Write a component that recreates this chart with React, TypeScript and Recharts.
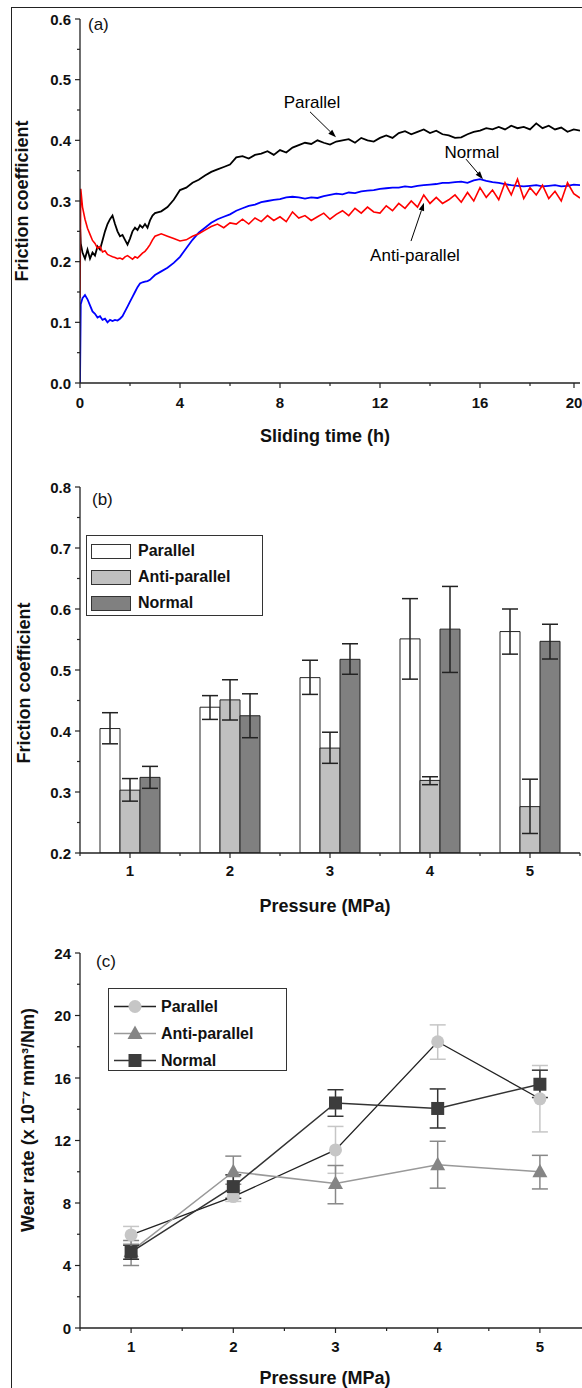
import {
  Bar,
  BarChart,
  ErrorBar,
  Legend,
  Line,
  LineChart,
  ReferenceDot,
  ReferenceLine,
  XAxis,
  YAxis,
} from "recharts";

const FONT = '"Liberation Sans", Arial, Helvetica, sans-serif';
const AXIS = "#222";

// ---- (a) friction coefficient vs sliding time ----
const hours = [
  0, 0.03, 0.1, 0.2, 0.3, 0.4, 0.5, 0.6, 0.7, 0.8,
  0.9, 1.0, 1.1, 1.2, 1.3, 1.4, 1.5, 1.6, 1.7, 1.8,
  1.9, 2.0, 2.1, 2.2, 2.3, 2.4, 2.5, 2.6, 2.7, 2.8,
  2.9, 3.0, 3.25, 3.5, 3.75, 4, 4.25, 4.5, 4.75, 5,
  5.25, 5.5, 5.75, 6, 6.25, 6.5, 6.75, 7, 7.25, 7.5,
  7.75, 8, 8.25, 8.5, 8.75, 9, 9.25, 9.5, 9.75, 10,
  10.25, 10.5, 10.75, 11, 11.25, 11.5, 11.75, 12, 12.25, 12.5,
  12.75, 13, 13.25, 13.5, 13.75, 14, 14.25, 14.5, 14.75, 15,
  15.25, 15.5, 15.75, 16, 16.25, 16.5, 16.75, 17, 17.25, 17.5,
  17.75, 18, 18.25, 18.5, 18.75, 19, 19.25, 19.5, 19.75, 20,
];
const parallelCof = [
  0.26, 0.23, 0.215, 0.205, 0.22, 0.205, 0.215, 0.21, 0.225, 0.22,
  0.235, 0.25, 0.262, 0.27, 0.276, 0.262, 0.25, 0.242, 0.244, 0.236,
  0.228, 0.238, 0.25, 0.256, 0.252, 0.26, 0.256, 0.262, 0.256, 0.268,
  0.276, 0.28, 0.283, 0.29, 0.302, 0.318, 0.322, 0.33, 0.335, 0.342,
  0.348, 0.352, 0.356, 0.36, 0.372, 0.374, 0.37, 0.376, 0.378, 0.382,
  0.376, 0.384, 0.38, 0.388, 0.392, 0.396, 0.394, 0.4, 0.396, 0.393,
  0.398, 0.4, 0.402, 0.396, 0.404, 0.4, 0.398, 0.404, 0.408, 0.404,
  0.412, 0.415, 0.41, 0.414, 0.418, 0.412, 0.416, 0.41, 0.408, 0.404,
  0.405, 0.41, 0.414, 0.416, 0.42, 0.418, 0.422, 0.418, 0.424, 0.42,
  0.422, 0.418, 0.428, 0.42, 0.424, 0.418, 0.421, 0.414, 0.418, 0.416,
];
const antiCof = [
  0.14, 0.32, 0.29, 0.27, 0.255, 0.245, 0.235, 0.23, 0.222, 0.225,
  0.216, 0.218, 0.212, 0.21, 0.208, 0.207, 0.205, 0.206, 0.204, 0.208,
  0.21, 0.207, 0.204, 0.208, 0.206, 0.21, 0.214, 0.217, 0.222, 0.228,
  0.236, 0.242, 0.246, 0.242, 0.238, 0.234, 0.236, 0.242, 0.246, 0.252,
  0.258, 0.262, 0.256, 0.264, 0.262, 0.27, 0.262, 0.272, 0.266, 0.276,
  0.268, 0.274, 0.266, 0.282, 0.272, 0.276, 0.268, 0.274, 0.28, 0.27,
  0.278, 0.284, 0.276, 0.288, 0.28, 0.29, 0.282, 0.28, 0.292, 0.284,
  0.296, 0.288, 0.3, 0.29, 0.31, 0.296, 0.306, 0.296, 0.302, 0.31,
  0.298, 0.314, 0.3, 0.322, 0.306, 0.318, 0.302, 0.33, 0.31, 0.336,
  0.304, 0.322, 0.31, 0.326, 0.304, 0.316, 0.3, 0.33, 0.312, 0.305,
];
const normalCof = [
  0, 0.13, 0.14, 0.145, 0.138, 0.128, 0.118, 0.114, 0.108, 0.11,
  0.104, 0.106, 0.1, 0.104, 0.102, 0.104, 0.103, 0.106, 0.11, 0.118,
  0.126, 0.134, 0.142, 0.15, 0.158, 0.164, 0.166, 0.167, 0.168, 0.17,
  0.174, 0.178, 0.184, 0.19, 0.198, 0.208, 0.222, 0.236, 0.248, 0.256,
  0.264, 0.27, 0.274, 0.278, 0.284, 0.288, 0.292, 0.294, 0.298, 0.3,
  0.302, 0.303, 0.306, 0.307, 0.306, 0.304, 0.306, 0.305, 0.308, 0.31,
  0.312, 0.311, 0.314, 0.313, 0.316, 0.317, 0.318, 0.32, 0.321, 0.322,
  0.322, 0.324, 0.323, 0.325, 0.326, 0.327, 0.328, 0.33, 0.33, 0.331,
  0.332, 0.33, 0.334, 0.336, 0.333, 0.331, 0.33, 0.328, 0.326, 0.325,
  0.324, 0.325, 0.326, 0.324, 0.325, 0.326, 0.324, 0.325, 0.327, 0.326,
];
const timeTicks = [0, 2, 4, 6, 8, 10, 12, 14, 16, 18, 20];
const timeMajor = [0, 4, 8, 12, 16, 20];
const cofTicksA = [0, 0.05, 0.1, 0.15, 0.2, 0.25, 0.3, 0.35, 0.4, 0.45, 0.5, 0.55, 0.6];
const cofMajorA = [0, 0.1, 0.2, 0.3, 0.4, 0.5, 0.6];

// ---- (b) friction coefficient vs pressure ----
const pressureCats = ["1", "2", "3", "4", "5"];
const parallelFric = [0.404, 0.439, 0.4875, 0.551, 0.563];
const parallelFricLow = [0.379, 0.419, 0.46, 0.485, 0.526];
const parallelFricHigh = [0.43, 0.458, 0.516, 0.617, 0.6];
const antiFric = [0.303, 0.451, 0.372, 0.319, 0.276];
const antiFricLow = [0.285, 0.418, 0.347, 0.312, 0.232];
const antiFricHigh = [0.322, 0.484, 0.398, 0.325, 0.321];
const normalFric = [0.324, 0.425, 0.5175, 0.567, 0.547];
const normalFricLow = [0.306, 0.389, 0.493, 0.496, 0.518];
const normalFricHigh = [0.342, 0.461, 0.543, 0.637, 0.575];
const cofTicksB = [0.2, 0.25, 0.3, 0.35, 0.4, 0.45, 0.5, 0.55, 0.6, 0.65, 0.7, 0.75, 0.8];
const cofMajorB = [0.2, 0.3, 0.4, 0.5, 0.6, 0.7, 0.8];

// ---- (c) wear rate vs pressure ----
const pressures = [1, 2, 3, 4, 5];
const parallelWear = [5.96, 8.41, 11.4, 18.32, 14.67];
const parallelWearLow = [5.4, 8.1, 9.9, 17.2, 12.55];
const parallelWearHigh = [6.5, 8.8, 12.9, 19.4, 16.8];
const antiWear = [4.9, 10.0, 9.25, 10.45, 10.0];
const antiWearLow = [4.0, 9.2, 7.95, 8.95, 8.9];
const antiWearHigh = [5.6, 11.0, 10.4, 11.95, 11.05];
const normalWear = [4.85, 9.05, 14.4, 14.05, 15.6];
const normalWearLow = [4.4, 8.3, 13.55, 12.8, 14.75];
const normalWearHigh = [5.3, 9.8, 15.25, 15.3, 16.5];
const pressureTicks = [0.5, 1, 1.5, 2, 2.5, 3, 3.5, 4, 4.5, 5, 5.5];
const pressureMajor = [1, 2, 3, 4, 5];
const wearTicks = [0, 2, 4, 6, 8, 10, 12, 14, 16, 18, 20, 22, 24];
const wearMajor = [0, 4, 8, 12, 16, 20, 24];

const timeData = hours.map((t, i) => ({
  t,
  par: parallelCof[i],
  anti: antiCof[i],
  norm: normalCof[i],
}));

const barData = pressureCats.map((p, i) => ({
  p,
  par: parallelFric[i],
  parErr: [parallelFric[i] - parallelFricLow[i], parallelFricHigh[i] - parallelFric[i]],
  anti: antiFric[i],
  antiErr: [antiFric[i] - antiFricLow[i], antiFricHigh[i] - antiFric[i]],
  norm: normalFric[i],
  normErr: [normalFric[i] - normalFricLow[i], normalFricHigh[i] - normalFric[i]],
}));

const wearData = pressures.map((p, i) => ({
  p,
  par: parallelWear[i],
  parErr: [parallelWear[i] - parallelWearLow[i], parallelWearHigh[i] - parallelWear[i]],
  anti: antiWear[i],
  antiErr: [antiWear[i] - antiWearLow[i], antiWearHigh[i] - antiWear[i]],
  norm: normalWear[i],
  normErr: [normalWear[i] - normalWearLow[i], normalWearHigh[i] - normalWear[i]],
}));

const isIn = (list: number[], v: number) => list.some((m) => Math.abs(m - v) < 1e-9);

function LeftTick(props: any) {
  const { x, y, payload, majors, fmt } = props;
  const major = isIn(majors, payload.value);
  return (
    <g>
      <line x1={x} x2={x - (major ? 5 : 3)} y1={y} y2={y} stroke={AXIS} strokeWidth={1.2} />
      {major && (
        <text x={x - 9} y={y} textAnchor="end" dominantBaseline="central" fontSize={15} fontWeight="bold" fontFamily={FONT} fill="#111">
          {fmt(payload.value)}
        </text>
      )}
    </g>
  );
}

function BottomTick(props: any) {
  const { x, y, payload, majors, dy } = props;
  const major = isIn(majors, payload.value);
  return (
    <g>
      <line x1={x} x2={x} y1={y} y2={y + (major ? 5 : 3)} stroke={AXIS} strokeWidth={1.2} />
      {major && (
        <text x={x} y={y + dy} textAnchor="middle" dominantBaseline="central" fontSize={15} fontWeight="bold" fontFamily={FONT} fill="#111">
          {payload.value}
        </text>
      )}
    </g>
  );
}

// category axis: label tick at centre, minor ticks at band edges
function CategoryTick(props: any) {
  const { x, y, payload, index, halfBand, count } = props;
  return (
    <g>
      <line x1={x} x2={x} y1={y} y2={y + 5} stroke={AXIS} strokeWidth={1.2} />
      <line x1={x - halfBand} x2={x - halfBand} y1={y} y2={y + 3} stroke={AXIS} strokeWidth={1.2} />
      {index === count - 1 && (
        <line x1={x + halfBand} x2={x + halfBand} y1={y} y2={y + 3} stroke={AXIS} strokeWidth={1.2} />
      )}
      <text x={x} y={y + 17} textAnchor="middle" dominantBaseline="central" fontSize={15} fontWeight="bold" fontFamily={FONT} fill="#111">
        {payload.value}
      </text>
    </g>
  );
}

const yTitle = (text: string, cx: number, cy: number) => () => (
  <text x={cx} y={cy} transform={`rotate(-90 ${cx} ${cy})`} textAnchor="middle" dominantBaseline="central" fontSize={18} fontWeight="bold" fontFamily={FONT} fill="#111">
    {text}
  </text>
);

const xTitle = (text: string, cx: number, cy: number) => () => (
  <text x={cx} y={cy} textAnchor="middle" dominantBaseline="central" fontSize={18} fontWeight="bold" fontFamily={FONT} fill="#111">
    {text}
  </text>
);

const arrowShape = (p: any) => {
  const { x1, y1, x2, y2 } = p;
  if (x1 == null || y2 == null) return <g />;
  const ang = Math.atan2(y2 - y1, x2 - x1);
  const bx = x2 - 8 * Math.cos(ang);
  const by = y2 - 8 * Math.sin(ang);
  const px = -Math.sin(ang) * 2.8;
  const py = Math.cos(ang) * 2.8;
  return (
    <g>
      <line x1={x1} y1={y1} x2={bx} y2={by} stroke="#000" strokeWidth={1} />
      <polygon points={`${x2},${y2} ${bx + px},${by + py} ${bx - px},${by - py}`} fill="#000" />
    </g>
  );
};

const noteLabel = (value: string) => ({
  value,
  position: "center" as const,
  fontSize: 17,
  fontFamily: FONT,
  fill: "#000",
});

// markers for (c)
const circleDot = (fill: string, r = 6.5) => (p: any) =>
  p.cx == null ? <g key={p.index} /> : <circle key={p.index} cx={p.cx} cy={p.cy} r={r} fill={fill} stroke="none" />;
const triangleDot = (fill: string) => (p: any) =>
  p.cx == null ? (
    <g key={p.index} />
  ) : (
    <polygon key={p.index} points={`${p.cx},${p.cy - 8} ${p.cx - 7.5},${p.cy + 5.5} ${p.cx + 7.5},${p.cy + 5.5}`} fill={fill} />
  );
const squareDot = (fill: string) => (p: any) =>
  p.cx == null ? <g key={p.index} /> : <rect key={p.index} x={p.cx - 6.5} y={p.cy - 6.5} width={13} height={13} fill={fill} />;

const PAR_MARK = "#c6c6c6";
const ANTI_MARK = "#858585";
const NORM_MARK = "#3c3c3c";

function BarLegend() {
  const items = [
    { name: "Parallel", fill: "#ffffff" },
    { name: "Anti-parallel", fill: "#c0c0c0" },
    { name: "Normal", fill: "#808080" },
  ];
  return (
    <div style={{ boxSizing: "border-box", width: 177, height: 81, border: "1px solid #333", background: "#fff", paddingTop: 2, fontFamily: FONT }}>
      {items.map((it) => (
        <div key={it.name} style={{ display: "flex", alignItems: "center", height: 26 }}>
          <div style={{ boxSizing: "border-box", marginLeft: 4, width: 40, height: 15, border: "1px solid #333", background: it.fill }} />
          <span style={{ marginLeft: 7, fontSize: 16, fontWeight: "bold", color: "#111" }}>{it.name}</span>
        </div>
      ))}
    </div>
  );
}

function WearLegend() {
  const items = [
    { name: "Parallel", line: "#222", mark: circleDot(PAR_MARK) },
    { name: "Anti-parallel", line: "#999", mark: triangleDot(ANTI_MARK) },
    { name: "Normal", line: "#333", mark: squareDot(NORM_MARK) },
  ];
  return (
    <div style={{ boxSizing: "border-box", width: 179, height: 83, border: "1px solid #333", background: "#fff", paddingTop: 4, fontFamily: FONT }}>
      {items.map((it) => (
        <div key={it.name} style={{ display: "flex", alignItems: "center", height: 27 }}>
          <svg width={44} height={27} style={{ marginLeft: 5 }}>
            <line x1={0} x2={42} y1={13.5} y2={13.5} stroke={it.line} strokeWidth={1.5} />
            {it.mark({ cx: 21, cy: 13.5, index: 0 })}
          </svg>
          <span style={{ marginLeft: 3, fontSize: 16, fontWeight: "bold", color: "#111" }}>{it.name}</span>
        </div>
      ))}
    </div>
  );
}

const panelTag = (text: string, left: number, top: number) => (
  <span style={{ position: "absolute", left, top, fontFamily: FONT, fontSize: 17, lineHeight: "17px", color: "#111" }}>{text}</span>
);

export default function App() {
  return (
    <div style={{ position: "absolute", left: 0, top: 0, width: 582, height: 1388, overflow: "hidden", background: "#fff" }}>
      <div style={{ position: "absolute", left: 11, top: 7, width: 640, height: 1420, border: "1.5px solid #222" }} />

      {/* (a) */}
      <div style={{ position: "absolute", left: 0, top: 0 }}>
        <LineChart width={582} height={450} data={timeData} margin={{ top: 19, right: 2, bottom: 37, left: 0 }}>
          <XAxis
            dataKey="t"
            type="number"
            domain={[0, 20]}
            ticks={timeTicks}
            allowDataOverflow
            height={30}
            stroke={AXIS}
            strokeWidth={1.3}
            tickSize={0}
            tickMargin={0}
            tick={(p: any) => <BottomTick {...p} majors={timeMajor} dy={19} />}
            label={{ content: xTitle("Sliding time (h)", 325, 436) }}
          />
          <YAxis
            type="number"
            domain={[0, 0.6]}
            ticks={cofTicksA}
            allowDataOverflow
            width={80}
            stroke={AXIS}
            strokeWidth={1.3}
            tickSize={0}
            tickMargin={0}
            tick={(p: any) => <LeftTick {...p} majors={cofMajorA} fmt={(v: number) => v.toFixed(1)} />}
            label={{ content: yTitle("Friction coefficient", 22, 201) }}
          />
          <Line type="linear" dataKey="par" stroke="#000000" strokeWidth={1.8} dot={false} isAnimationActive={false} />
          <Line type="linear" dataKey="norm" stroke="#0000ff" strokeWidth={1.8} dot={false} isAnimationActive={false} />
          <Line type="linear" dataKey="anti" stroke="#ff0000" strokeWidth={1.6} dot={false} isAnimationActive={false} />
          <ReferenceDot x={9.28} y={0.463} r={0} fill="none" stroke="none" ifOverflow="visible" label={noteLabel("Parallel")} />
          <ReferenceLine segment={[{ x: 9.2, y: 0.447 }, { x: 10.24, y: 0.405 }]} shape={arrowShape} ifOverflow="visible" />
          <ReferenceDot x={15.68} y={0.381} r={0} fill="none" stroke="none" ifOverflow="visible" label={noteLabel("Normal")} />
          <ReferenceLine segment={[{ x: 15.44, y: 0.369 }, { x: 16.12, y: 0.336 }]} shape={arrowShape} ifOverflow="visible" />
          <ReferenceDot x={13.4} y={0.211} r={0} fill="none" stroke="none" ifOverflow="visible" label={noteLabel("Anti-parallel")} />
          <ReferenceLine segment={[{ x: 13.24, y: 0.234 }, { x: 13.76, y: 0.297 }]} shape={arrowShape} ifOverflow="visible" />
        </LineChart>
      </div>
      {panelTag("(a)", 88, 16)}

      {/* (b) */}
      <div style={{ position: "absolute", left: 0, top: 440 }}>
        <BarChart width={582} height={480} data={barData} margin={{ top: 47, right: 2, bottom: 37, left: 0 }} barCategoryGap="20%" barGap={0}>
          <XAxis
            dataKey="p"
            height={30}
            stroke={AXIS}
            strokeWidth={1.3}
            tickSize={0}
            tickMargin={0}
            interval={0}
            tick={(p: any) => <CategoryTick {...p} halfBand={500 / pressureCats.length / 2} count={pressureCats.length} />}
            label={{ content: xTitle("Pressure (MPa)", 325, 466) }}
          />
          <YAxis
            type="number"
            domain={[0.2, 0.8]}
            ticks={cofTicksB}
            allowDataOverflow
            width={80}
            stroke={AXIS}
            strokeWidth={1.3}
            tickSize={0}
            tickMargin={0}
            tick={(p: any) => <LeftTick {...p} majors={cofMajorB} fmt={(v: number) => v.toFixed(1)} />}
            label={{ content: yTitle("Friction coefficient", 24, 243) }}
          />
          <Legend layout="horizontal" verticalAlign="middle" align="center" wrapperStyle={{ left: 86, top: 95, width: 177, height: 81 }} content={() => <BarLegend />} />
          <Bar dataKey="par" name="Parallel" fill="#ffffff" stroke="#222" strokeWidth={1} isAnimationActive={false}>
            <ErrorBar dataKey="parErr" direction="y" width={8} stroke="#222" strokeWidth={1.5} />
          </Bar>
          <Bar dataKey="anti" name="Anti-parallel" fill="#c0c0c0" stroke="#222" strokeWidth={1} isAnimationActive={false}>
            <ErrorBar dataKey="antiErr" direction="y" width={8} stroke="#222" strokeWidth={1.5} />
          </Bar>
          <Bar dataKey="norm" name="Normal" fill="#808080" stroke="#222" strokeWidth={1} isAnimationActive={false}>
            <ErrorBar dataKey="normErr" direction="y" width={8} stroke="#222" strokeWidth={1.5} />
          </Bar>
        </BarChart>
      </div>
      {panelTag("(b)", 92, 491)}

      {/* (c) */}
      <div style={{ position: "absolute", left: 0, top: 890 }}>
        <LineChart width={593} height={498} data={wearData} margin={{ top: 63, right: 2, bottom: 30, left: 0 }}>
          <XAxis
            dataKey="p"
            type="number"
            domain={[0.5, 5.5]}
            ticks={pressureTicks}
            allowDataOverflow
            height={30}
            stroke={AXIS}
            strokeWidth={1.3}
            tickSize={0}
            tickMargin={0}
            tick={(p: any) => <BottomTick {...p} majors={pressureMajor} dy={18} />}
            label={{ content: xTitle("Pressure (MPa)", 325, 488) }}
          />
          <YAxis
            type="number"
            domain={[0, 24]}
            ticks={wearTicks}
            allowDataOverflow
            width={80}
            stroke={AXIS}
            strokeWidth={1.3}
            tickSize={0}
            tickMargin={0}
            tick={(p: any) => <LeftTick {...p} majors={wearMajor} fmt={(v: number) => String(v)} />}
            label={{ content: yTitle("Wear rate (x 10\u207B\u2077 mm\u00B3/Nm)", 28, 230) }}
          />
          <Legend layout="horizontal" verticalAlign="middle" align="center" wrapperStyle={{ left: 108, top: 98, width: 179, height: 83 }} content={() => <WearLegend />} />
          <Line type="linear" dataKey="par" name="Parallel" stroke="#222" strokeWidth={1.3} dot={circleDot(PAR_MARK)} isAnimationActive={false}>
            <ErrorBar dataKey="parErr" direction="y" width={8} stroke={PAR_MARK} strokeWidth={1.5} />
          </Line>
          <Line type="linear" dataKey="anti" name="Anti-parallel" stroke="#999" strokeWidth={1.5} dot={triangleDot(ANTI_MARK)} isAnimationActive={false}>
            <ErrorBar dataKey="antiErr" direction="y" width={8} stroke="#888" strokeWidth={1.5} />
          </Line>
          <Line type="linear" dataKey="norm" name="Normal" stroke="#333" strokeWidth={1.5} dot={squareDot(NORM_MARK)} isAnimationActive={false}>
            <ErrorBar dataKey="normErr" direction="y" width={8} stroke="#333" strokeWidth={1.5} />
          </Line>
        </LineChart>
      </div>
      {panelTag("(c)", 96, 953)}
    </div>
  );
}
